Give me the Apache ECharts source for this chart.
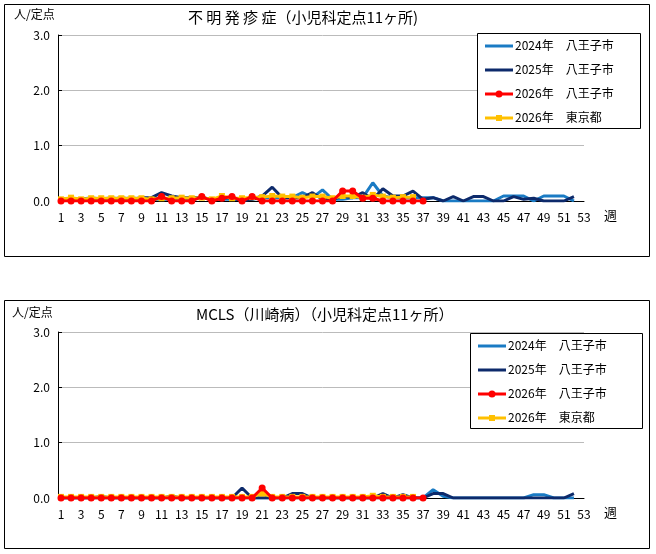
<!DOCTYPE html><html><head><meta charset="utf-8"><script src="https://cdn.jsdelivr.net/npm/echarts@6/dist/echarts.min.js"></script>
<style>body{margin:0;background:#fff}#c{width:656px;height:554px}</style></head><body><div id="c"></div><script>
const weeks=Array.from({length:53},(_,i)=>i+1);
const yTicks=['0.0','1.0','2.0','3.0'];
const months=[['1月',2],['2月',6],['3月',10],['4月',14.5],['5月',19],['6月',23],['7月',27.5],['8月',32],['9月',36.5],['10月',41],['11月',45.5],['12月',49.5]];
const seriesNames=['2024年　八王子市','2025年　八王子市','2026年　八王子市','2026年　東京都'];
// top chart: 不明発疹症
const a2024=[0.03,0.03,0.03,0.06,0.03,0.06,0.03,0.06,0.03,0.03,0.03,0.03,0.06,0.03,0.06,0.03,0.03,0.03,0.03,0.03,0.06,0.06,0.06,0.06,0.15,0.06,0.2,0.03,0.03,0.06,0.06,0.33,0.09,0.06,0.06,0.06,0.06,0.06,0,0,0,0,0,0,0.09,0.09,0.09,0,0.09,0.09,0.09,0,null];
const a2025=[0.03,0.03,0.03,0.03,0.03,0.03,0.06,0.03,0.06,0.06,0.15,0.09,0.06,0.06,0.06,0.03,0.06,0.06,0,0.03,0.09,0.25,0.06,0.06,0.06,0.15,0.03,0.03,0.09,0.06,0.15,0.03,0.22,0.09,0.09,0.18,0.03,0.06,0,0.08,0,0.08,0.08,0,0,0.08,0.03,0.05,0,0,0,0.08,null];
const a2026=[0,0,0,0,0,0,0,0,0,0,0.08,0,0,0,0.08,0,0.05,0.08,0,0.08,0,0,0,0,0,0,0,0,0.18,0.18,0.05,0.05,0,0,0,0,0];
const aTokyo=[0.03,0.06,0.03,0.05,0.05,0.05,0.05,0.05,0.05,0.03,0.05,0.05,0.06,0.05,0.06,0.03,0.09,0.05,0.05,0.07,0.07,0.09,0.08,0.08,0.06,0.08,0.08,0.05,0.09,0.09,0.06,0.11,0.08,0.06,0.07,0.07];
// bottom chart: MCLS
const b2024=[0,0,0,0,0.03,0,0,0,0,0,0,0,0,0,0,0,0,0,0,0,0,0,0,0,0,0,0,0,0,0,0,0,0,0,0,0,0,0.15,0.03,0,0,0,0,0,0,0,0,0.06,0.06,0,0,0,null];
const b2025=[0,0,0,0,0,0,0,0,0,0,0,0.03,0,0,0,0,0,0,0.18,0,0,0,0,0.08,0.08,0,0,0,0,0,0,0,0.08,0,0.06,0,0,0.08,0.08,0,0,0,0,0,0,0,0,0,0,0,0,0.08,null];
const b2026=[0,0,0,0,0,0,0,0,0,0,0,0,0,0,0,0,0,0,0,0,0.18,0,0,0,0,0,0,0,0,0,0,0,0,0,0,0,0];
const bTokyo=[0.02,0.02,0.02,0.02,0.02,0.02,0.02,0.02,0.02,0.02,0.02,0.02,0.02,0.02,0.02,0.02,0.02,0.02,0.02,0.02,0.08,0.02,0.02,0.02,0.02,0.02,0.02,0.02,0.02,0.02,0.02,0.04,0.02,0.02,0.02,0.02];
const colors=['#1a7bc4','#0d2a6b','#ff0000','#ffc000'];
const F='"Noto Sans CJK JP",sans-serif';
const pair=a=>a.map((v,i)=>[i+1,v]);
function grid(top){return {left:61,right:72,top:top,height:166};}
function mkSeries(idx,data,k){
  const base={type:'line',xAxisIndex:idx,yAxisIndex:idx,name:seriesNames[k],data:pair(data),color:colors[k],animation:false,
    lineStyle:{width:3},symbol:'none',z:k==2?5:(k==3?4:3)};
  if(k==2){base.symbol='circle';base.symbolSize=7;}
  if(k==3){base.symbol='rect';base.symbolSize=6;}
  return base;
}
function xa(idx){return {type:'value',gridIndex:idx,min:1,max:53,interval:2,axisLine:{onZero:false,lineStyle:{color:'#000'}},axisTick:{show:false},splitLine:{show:false},axisLabel:{color:'#000',fontSize:12,fontFamily:F,margin:10}};}
function ya(idx){return {type:'value',gridIndex:idx,min:0,max:3,interval:1,offset:3,axisLine:{show:true,lineStyle:{color:'#000'}},axisTick:{show:true,inside:true,length:4,lineStyle:{color:'#000'}},splitLine:{lineStyle:{color:'#bbb'}},axisLabel:{color:'#000',fontSize:12,fontFamily:F,formatter:v=>v.toFixed(1)}};}
const chart=echarts.init(document.getElementById('c'),null,{renderer:'canvas'});
function legendG(x,y,w,h){
  const g=[{type:'rect',shape:{x:x+.5,y:y+.5,width:w,height:h},style:{fill:'#fff',stroke:'#000',lineWidth:1},z:10}];
  seriesNames.forEach((n,k)=>{const cy=y+13+k*24;
    g.push({type:'line',shape:{x1:x+8,y1:cy,x2:x+36,y2:cy},style:{stroke:colors[k],lineWidth:3},z:11});
    if(k==2)g.push({type:'circle',shape:{cx:x+22,cy:cy,r:3.5},style:{fill:colors[k]},z:11});
    if(k==3)g.push({type:'rect',shape:{x:x+19,y:cy-3,width:6,height:6},style:{fill:colors[k]},z:11});
    g.push({type:'text',x:x+38,y:cy-7,style:{text:n,font:'12px '+F,fill:'#000'},z:11});
  });
  return g;
}
const series=[];
[a2024,a2025,a2026,aTokyo].forEach((d,k)=>series.push(mkSeries(0,d,k)));
[b2024,b2025,b2026,bTokyo].forEach((d,k)=>series.push(mkSeries(1,d,k)));
chart.setOption({
  animation:false,
  grid:[grid(35),grid(332)],
  xAxis:[xa(0),xa(1)],
  yAxis:[ya(0),ya(1)],
  series:series,
  graphic:[
    {type:'rect',shape:{x:4.5,y:4.5,width:645,height:252},style:{fill:'none',stroke:'#000',lineWidth:1},silent:true},
    {type:'rect',shape:{x:4.5,y:300.5,width:645,height:248},style:{fill:'none',stroke:'#000',lineWidth:1},silent:true},
    {type:'text',left:188,top:10,style:{text:'不 明 発 疹 症（小児科定点11ヶ所)',font:'15px '+F,fill:'#000'}},
    {type:'text',left:196,top:307,style:{text:'MCLS（川崎病）（小児科定点11ヶ所）',font:'15px '+F,fill:'#000'}},
    {type:'text',left:14,top:8,style:{text:'人/定点',font:'12px '+F,fill:'#000'}},
    {type:'text',left:12,top:306,style:{text:'人/定点',font:'12px '+F,fill:'#000'}},
    {type:'text',left:604,top:209,style:{text:'週',font:'13px '+F,fill:'#000'}},
    {type:'text',left:604,top:506,style:{text:'週',font:'13px '+F,fill:'#000'}}
  ].concat(legendG(477,33,163,95)).concat(legendG(470,333,172,95))
});
const g=[];
[0,1].forEach(idx=>{months.forEach(([m,w])=>{const p=chart.convertToPixel({xAxisIndex:idx,yAxisIndex:idx},[w,0]);g.push({type:'text',x:p[0],y:p[1]+31,style:{text:m,font:'12px '+F,fill:'#000',align:'center'}});});});
const opt=chart.getOption();
chart.setOption({graphic:opt.graphic.concat(g)});
</script></body></html>
